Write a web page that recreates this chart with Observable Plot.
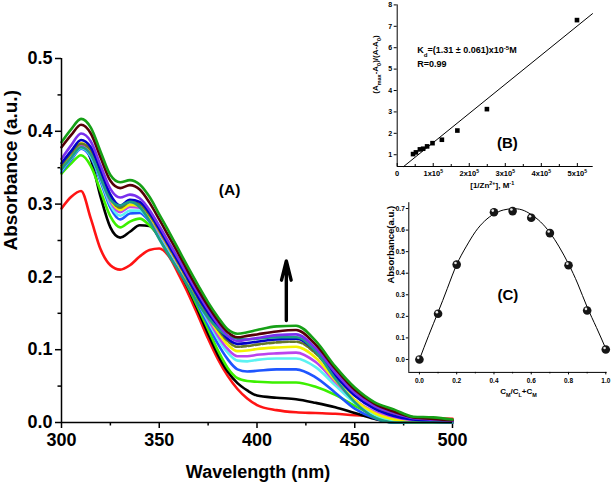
<!DOCTYPE html>
<html>
<head>
<meta charset="utf-8">
<script src="https://cdn.jsdelivr.net/npm/d3@7"></script>
<script src="https://cdn.jsdelivr.net/npm/@observablehq/plot@0.6"></script>
<style>
  body { margin: 0; background: white; }
  #chart { position: relative; width: 614px; height: 490px; overflow: hidden; background: white; }
  #chart svg { position: absolute; }
</style>
</head>
<body>
<div id="chart"></div>
<script>
// ---------- Panel A: UV-vis titration spectra ----------
const wavelength = [300,305,310,315,320,325,330,335,340,345,350,355,360,365,370,375,380,385,390,395,400,410,420,430,440,450,460,470,480,490,500];
const sRed    = [0.294,0.310,0.318,0.280,0.238,0.216,0.210,0.216,0.228,0.237,0.239,0.228,0.203,0.176,0.146,0.115,0.087,0.064,0.046,0.033,0.024,0.017,0.014,0.013,0.012,0.010,0.009,0.008,0.007,0.006,0.005];
const sBlack  = [0.350,0.366,0.381,0.362,0.310,0.268,0.254,0.262,0.271,0.270,0.254,0.232,0.210,0.183,0.153,0.122,0.093,0.070,0.054,0.044,0.037,0.034,0.032,0.027,0.021,0.013,0.005,0.000,0.000,0.000,0.000];
const sLime   = [0.342,0.356,0.367,0.352,0.318,0.283,0.268,0.276,0.280,0.271,0.256,0.234,0.211,0.185,0.157,0.128,0.099,0.075,0.061,0.057,0.056,0.055,0.055,0.049,0.038,0.023,0.010,0.002,0.000,0.000,0.000];
const sBlue   = [0.344,0.361,0.376,0.364,0.331,0.295,0.279,0.287,0.288,0.276,0.258,0.236,0.213,0.188,0.161,0.134,0.108,0.087,0.073,0.070,0.071,0.073,0.073,0.062,0.041,0.019,0.006,0.000,0.000,0.000,0.000];
const sCyan   = [0.346,0.363,0.377,0.366,0.334,0.299,0.284,0.291,0.291,0.278,0.259,0.237,0.214,0.190,0.164,0.139,0.115,0.096,0.085,0.084,0.086,0.088,0.088,0.076,0.051,0.027,0.011,0.003,0.000,0.000,0.000];
const sOrchid = [0.348,0.365,0.380,0.369,0.337,0.303,0.289,0.296,0.295,0.281,0.261,0.239,0.216,0.192,0.166,0.142,0.119,0.101,0.091,0.091,0.093,0.095,0.096,0.083,0.056,0.031,0.015,0.007,0.003,0.001,0.000];
const sYellow = [0.351,0.368,0.384,0.373,0.341,0.306,0.292,0.299,0.297,0.283,0.263,0.240,0.217,0.193,0.168,0.145,0.124,0.107,0.098,0.099,0.101,0.103,0.104,0.089,0.058,0.031,0.013,0.004,0.000,0.000,0.000];
const sOlive  = [0.353,0.370,0.383,0.374,0.342,0.309,0.295,0.303,0.300,0.285,0.264,0.241,0.218,0.194,0.170,0.148,0.128,0.112,0.104,0.105,0.107,0.110,0.111,0.095,0.064,0.037,0.021,0.011,0.006,0.005,0.002];
const sNavy   = [0.356,0.373,0.388,0.378,0.346,0.313,0.298,0.306,0.303,0.288,0.266,0.243,0.220,0.196,0.172,0.151,0.131,0.115,0.108,0.109,0.111,0.114,0.115,0.098,0.065,0.037,0.019,0.009,0.004,0.001,0.000];
const sTeal   = [0.348,0.364,0.378,0.368,0.336,0.306,0.298,0.303,0.296,0.277,0.252,0.229,0.208,0.186,0.163,0.144,0.129,0.119,0.115,0.114,0.115,0.117,0.117,0.098,0.060,0.028,0.007,0.000,0.000,0.000,0.000];
const sViolet = [0.362,0.381,0.397,0.386,0.353,0.321,0.309,0.313,0.308,0.292,0.270,0.247,0.224,0.200,0.177,0.155,0.135,0.119,0.112,0.114,0.116,0.120,0.121,0.102,0.069,0.041,0.023,0.013,0.006,0.004,0.002];
const sMaroon = [0.378,0.395,0.409,0.397,0.364,0.332,0.322,0.326,0.320,0.302,0.279,0.255,0.231,0.206,0.182,0.160,0.140,0.124,0.117,0.119,0.121,0.125,0.127,0.107,0.074,0.045,0.026,0.015,0.007,0.005,0.003];
const sGreen  = [0.385,0.403,0.417,0.405,0.372,0.340,0.330,0.333,0.327,0.310,0.286,0.262,0.237,0.212,0.188,0.165,0.145,0.128,0.122,0.124,0.127,0.132,0.133,0.112,0.077,0.048,0.028,0.018,0.008,0.007,0.004];

const series = [
  {values: sRed, color: "#ff1414"},
  {values: sBlack, color: "#000000"},
  {values: sLime, color: "#3cf000"},
  {values: sBlue, color: "#1e55ff"},
  {values: sCyan, color: "#5cf2f2"},
  {values: sOrchid, color: "#bb44ee"},
  {values: sYellow, color: "#f2f200"},
  {values: sOlive, color: "#66782a", dash: "5,2"},
  {values: sNavy, color: "#0000c8"},
  {values: sTeal, color: "#1c9c88"},
  {values: sViolet, color: "#7a30ee"},
  {values: sMaroon, color: "#560008"},
  {values: sGreen, color: "#16a016"}
];

const aYTicks = [0, 0.1, 0.2, 0.3, 0.4, 0.5];
const aYMinor = [0.05, 0.15, 0.25, 0.35, 0.45];
const aXTicks = [300, 350, 400, 450, 500];
const aXMinor = [325, 375, 425, 475];
const arrowData = [{x: 415, y1: 0.140, y2: 0.222}];

// ---------- Panel B: Benesi-Hildebrand plot ----------
const bX = [0.44e5, 0.52e5, 0.63e5, 0.72e5, 0.83e5, 0.98e5, 1.24e5, 1.67e5, 2.49e5, 4.99e5];
const bY = [1.03, 1.11, 1.25, 1.28, 1.39, 1.54, 1.70, 2.13, 3.13, 7.29];
const bFitX = [0.18e5, 5.42e5];
const bFitY = [0.45, 7.59];
const bXTicks = [0, 1e5, 2e5, 3e5, 4e5, 5e5];
const bXMinor = [0.5e5, 1.5e5, 2.5e5, 3.5e5, 4.5e5];
const bYTicks = [1, 2, 3, 4, 5, 6, 7, 8];

// ---------- Panel C: Job's plot ----------
const cX = [0.0, 0.1, 0.2, 0.4, 0.5, 0.6, 0.7, 0.8, 0.9, 1.0];
const cY = [0.000, 0.212, 0.440, 0.683, 0.688, 0.657, 0.586, 0.437, 0.227, 0.046];
const cFitX = [0, 0.05, 0.1, 0.15, 0.2, 0.25, 0.3, 0.35, 0.4, 0.45, 0.5, 0.55, 0.6, 0.65, 0.7, 0.75, 0.8, 0.85, 0.9, 0.95, 1.0];
const cFitY = [0.000, 0.112, 0.219, 0.330, 0.440, 0.522, 0.592, 0.642, 0.675, 0.693, 0.699, 0.694, 0.672, 0.638, 0.588, 0.522, 0.443, 0.350, 0.243, 0.148, 0.050];
const cXTicks = [0, 0.2, 0.4, 0.6, 0.8, 1.0];
const cXMinor = [0.1, 0.3, 0.5, 0.7, 0.9];
const cYTicks = [0, 0.1, 0.2, 0.3, 0.4, 0.5, 0.6, 0.7];

const FONT = "'Liberation Sans', Arial, Helvetica, sans-serif";

function rich(svg) {
  const esc = x => x.replace(/&/g, "&amp;").replace(/</g, "&lt;");
  svg.querySelectorAll("text").forEach(t => {
    const s = t.textContent;
    if (!/[_^]\{/.test(s)) return;
    let html = "", last = 0;
    s.replace(/([_^])\{([^}]*)\}/g, (m, k, c, off) => {
      html += esc(s.slice(last, off));
      html += `<tspan baseline-shift="${k === "_" ? "sub" : "super"}" font-size="68%">${esc(c)}</tspan>`;
      last = off + m.length;
    });
    html += esc(s.slice(last));
    t.innerHTML = html;
  });
  return svg;
}

const chart = document.getElementById("chart");

// Main plot (A)
const mainPlot = Plot.plot({
  width: 614, height: 490,
  marginLeft: 61, marginRight: 162, marginTop: 58, marginBottom: 68,
  x: {domain: [300, 500]},
  y: {domain: [0, 0.5]},
  style: {fontFamily: FONT, fontWeight: "bold", fontSize: "18px", background: "white", color: "black", overflow: "visible"},
  marks: [
    Plot.axisY(aYTicks, {tickSize: 6, tickPadding: 3, strokeWidth: 1.5, tickFormat: d => d.toFixed(1), label: null}),
    Plot.axisY(aYMinor, {tickSize: 3.5, strokeWidth: 1.5, fill: "none", label: null}),
    Plot.axisX(aXTicks, {tickSize: 6, tickPadding: 5, strokeWidth: 1.5, tickFormat: d => String(d), label: null}),
    Plot.axisX(aXMinor, {tickSize: 3.5, strokeWidth: 1.5, fill: "none", label: null}),
    ...series.map(s => Plot.line(wavelength.map((w, i) => ({wl: w, a: s.values[i]})), {
      x: "wl", y: "a", stroke: s.color, strokeWidth: 2.6, curve: "monotone-x",
      strokeDasharray: s.dash
    })),
    Plot.ruleX([300], {strokeWidth: 1.5}),
    Plot.ruleY([0], {strokeWidth: 1.5}),
    Plot.arrow(arrowData, {x1: "x", x2: "x", y1: "y1", y2: "y2", strokeWidth: 3.4, headLength: 9, headAngle: 28}),
    Plot.text(["(A)"], {x: 386, y: 0.32, text: d => d, fontSize: 15.5, fontWeight: "bold"}),
    Plot.text(["Absorbance (a.u.)"], {frameAnchor: "left", text: d => d, rotate: -90, dx: -51, dy: 10, fontSize: 19, fontWeight: "bold"}),
    Plot.text(["Wavelength (nm)"], {frameAnchor: "bottom", text: d => d, dy: 55, dx: 1, fontSize: 18, fontWeight: "bold"})
  ]
});
mainPlot.style.left = "0px"; mainPlot.style.top = "0px";
chart.appendChild(rich(mainPlot));

// Inset B
const bData = bX.map((x, i) => ({x, y: bY[i]}));
const bFit = bFitX.map((x, i) => ({x, y: bFitY[i]}));
const bPlot = Plot.plot({
  width: 254, height: 210,
  marginLeft: 36.7, marginRight: 21.3, marginTop: 14.4, marginBottom: 34,
  x: {domain: [0, 5.44e5]},
  y: {domain: [0.45, 8]},
  style: {fontFamily: FONT, fontWeight: "bold", fontSize: "7px", background: "transparent", color: "black", overflow: "visible"},
  marks: [
    Plot.axisY(bYTicks, {tickSize: 3, tickPadding: 2, tickFormat: d => String(d), label: null}),
    Plot.axisX(bXTicks, {tickSize: -3, fill: "none", label: null}),
    Plot.axisX(bXMinor, {tickSize: -2, fill: "none", label: null}),
    Plot.axisX(bXTicks, {tickSize: 0, tickPadding: 4, stroke: "none", tickFormat: d => d === 0 ? "0" : `${d / 1e5}x10^{5}`, label: null, fontSize: 7.5}),
    Plot.ruleX([0]),
    Plot.ruleY([0.45]),
    Plot.line(bFit, {x: "x", y: "y", stroke: "black", strokeWidth: 1}),
    Plot.dot(bData, {x: "x", y: "y", symbol: "square", fill: "black", r: 2.6}),
    Plot.text(["K_{d}=(1.31 ± 0.061)x10^{-5}M"], {x: 0.556e5, y: 5.87, text: d => d, textAnchor: "start", fontSize: 9}),
    Plot.text(["R=0.99"], {x: 0.556e5, y: 5.25, text: d => d, textAnchor: "start", fontSize: 9}),
    Plot.text(["(B)"], {x: 3.06e5, y: 1.53, text: d => d, fontSize: 15}),
    Plot.text(["(A_{max}-A_{0})/(A-A_{0})"], {frameAnchor: "left", text: d => d, rotate: -90, dx: -21.7, dy: 8, fontSize: 8}),
    Plot.text(["[1/Zn^{2+}], M^{-1}"], {frameAnchor: "bottom", text: d => d, dy: 21, dx: -3, fontSize: 8})
  ]
});
bPlot.style.left = "360px"; bPlot.style.top = "-10px";
chart.appendChild(rich(bPlot));

// Inset C
const cData = cX.map((x, i) => ({x, y: cY[i]}));
const cFit = cFitX.map((x, i) => ({x, y: cFitY[i]}));
const cPlot = Plot.plot({
  width: 244, height: 215,
  marginLeft: 38.3, marginRight: 7.4, marginTop: 7.2, marginBottom: 38.1,
  x: {domain: [-0.057, 1.007]},
  y: {domain: [-0.06, 0.727]},
  style: {fontFamily: FONT, fontWeight: "bold", fontSize: "6.5px", background: "transparent", color: "black", overflow: "visible"},
  marks: [
    Plot.axisY(cYTicks, {tickSize: 2.5, tickPadding: 1.5, tickFormat: d => d.toFixed(1), label: null}),
    Plot.axisX(cXTicks, {tickSize: 2.5, tickPadding: 3, tickFormat: d => d.toFixed(1), label: null}),
    Plot.axisX(cXMinor, {tickSize: 1.5, fill: "none", label: null}),
    Plot.ruleX([-0.057]),
    Plot.ruleY([-0.06]),
    Plot.line(cFit, {x: "x", y: "y", stroke: "black", strokeWidth: 1, curve: "natural"}),
    Plot.dot(cData, {x: "x", y: "y", fill: "#161616", r: 4.3}),
    Plot.dot(cData, {x: "x", y: "y", fill: "#e8e8e8", r: 1.3, dx: -1.2, dy: -1.6}),
    Plot.text(["(C)"], {x: 0.475, y: 0.297, text: d => d, fontSize: 15}),
    Plot.text(["Absorbance(a.u.)"], {frameAnchor: "left", text: d => d, rotate: -90, dx: -17.7, dy: -4, fontSize: 9.5}),
    Plot.text(["C_{M}/C_{L}+C_{M}"], {frameAnchor: "bottom", text: d => d, dy: 22, dx: 10.5, fontSize: 8})
  ]
});
cPlot.style.left = "370px"; cPlot.style.top = "195px";
chart.appendChild(rich(cPlot));
</script>
</body>
</html>
